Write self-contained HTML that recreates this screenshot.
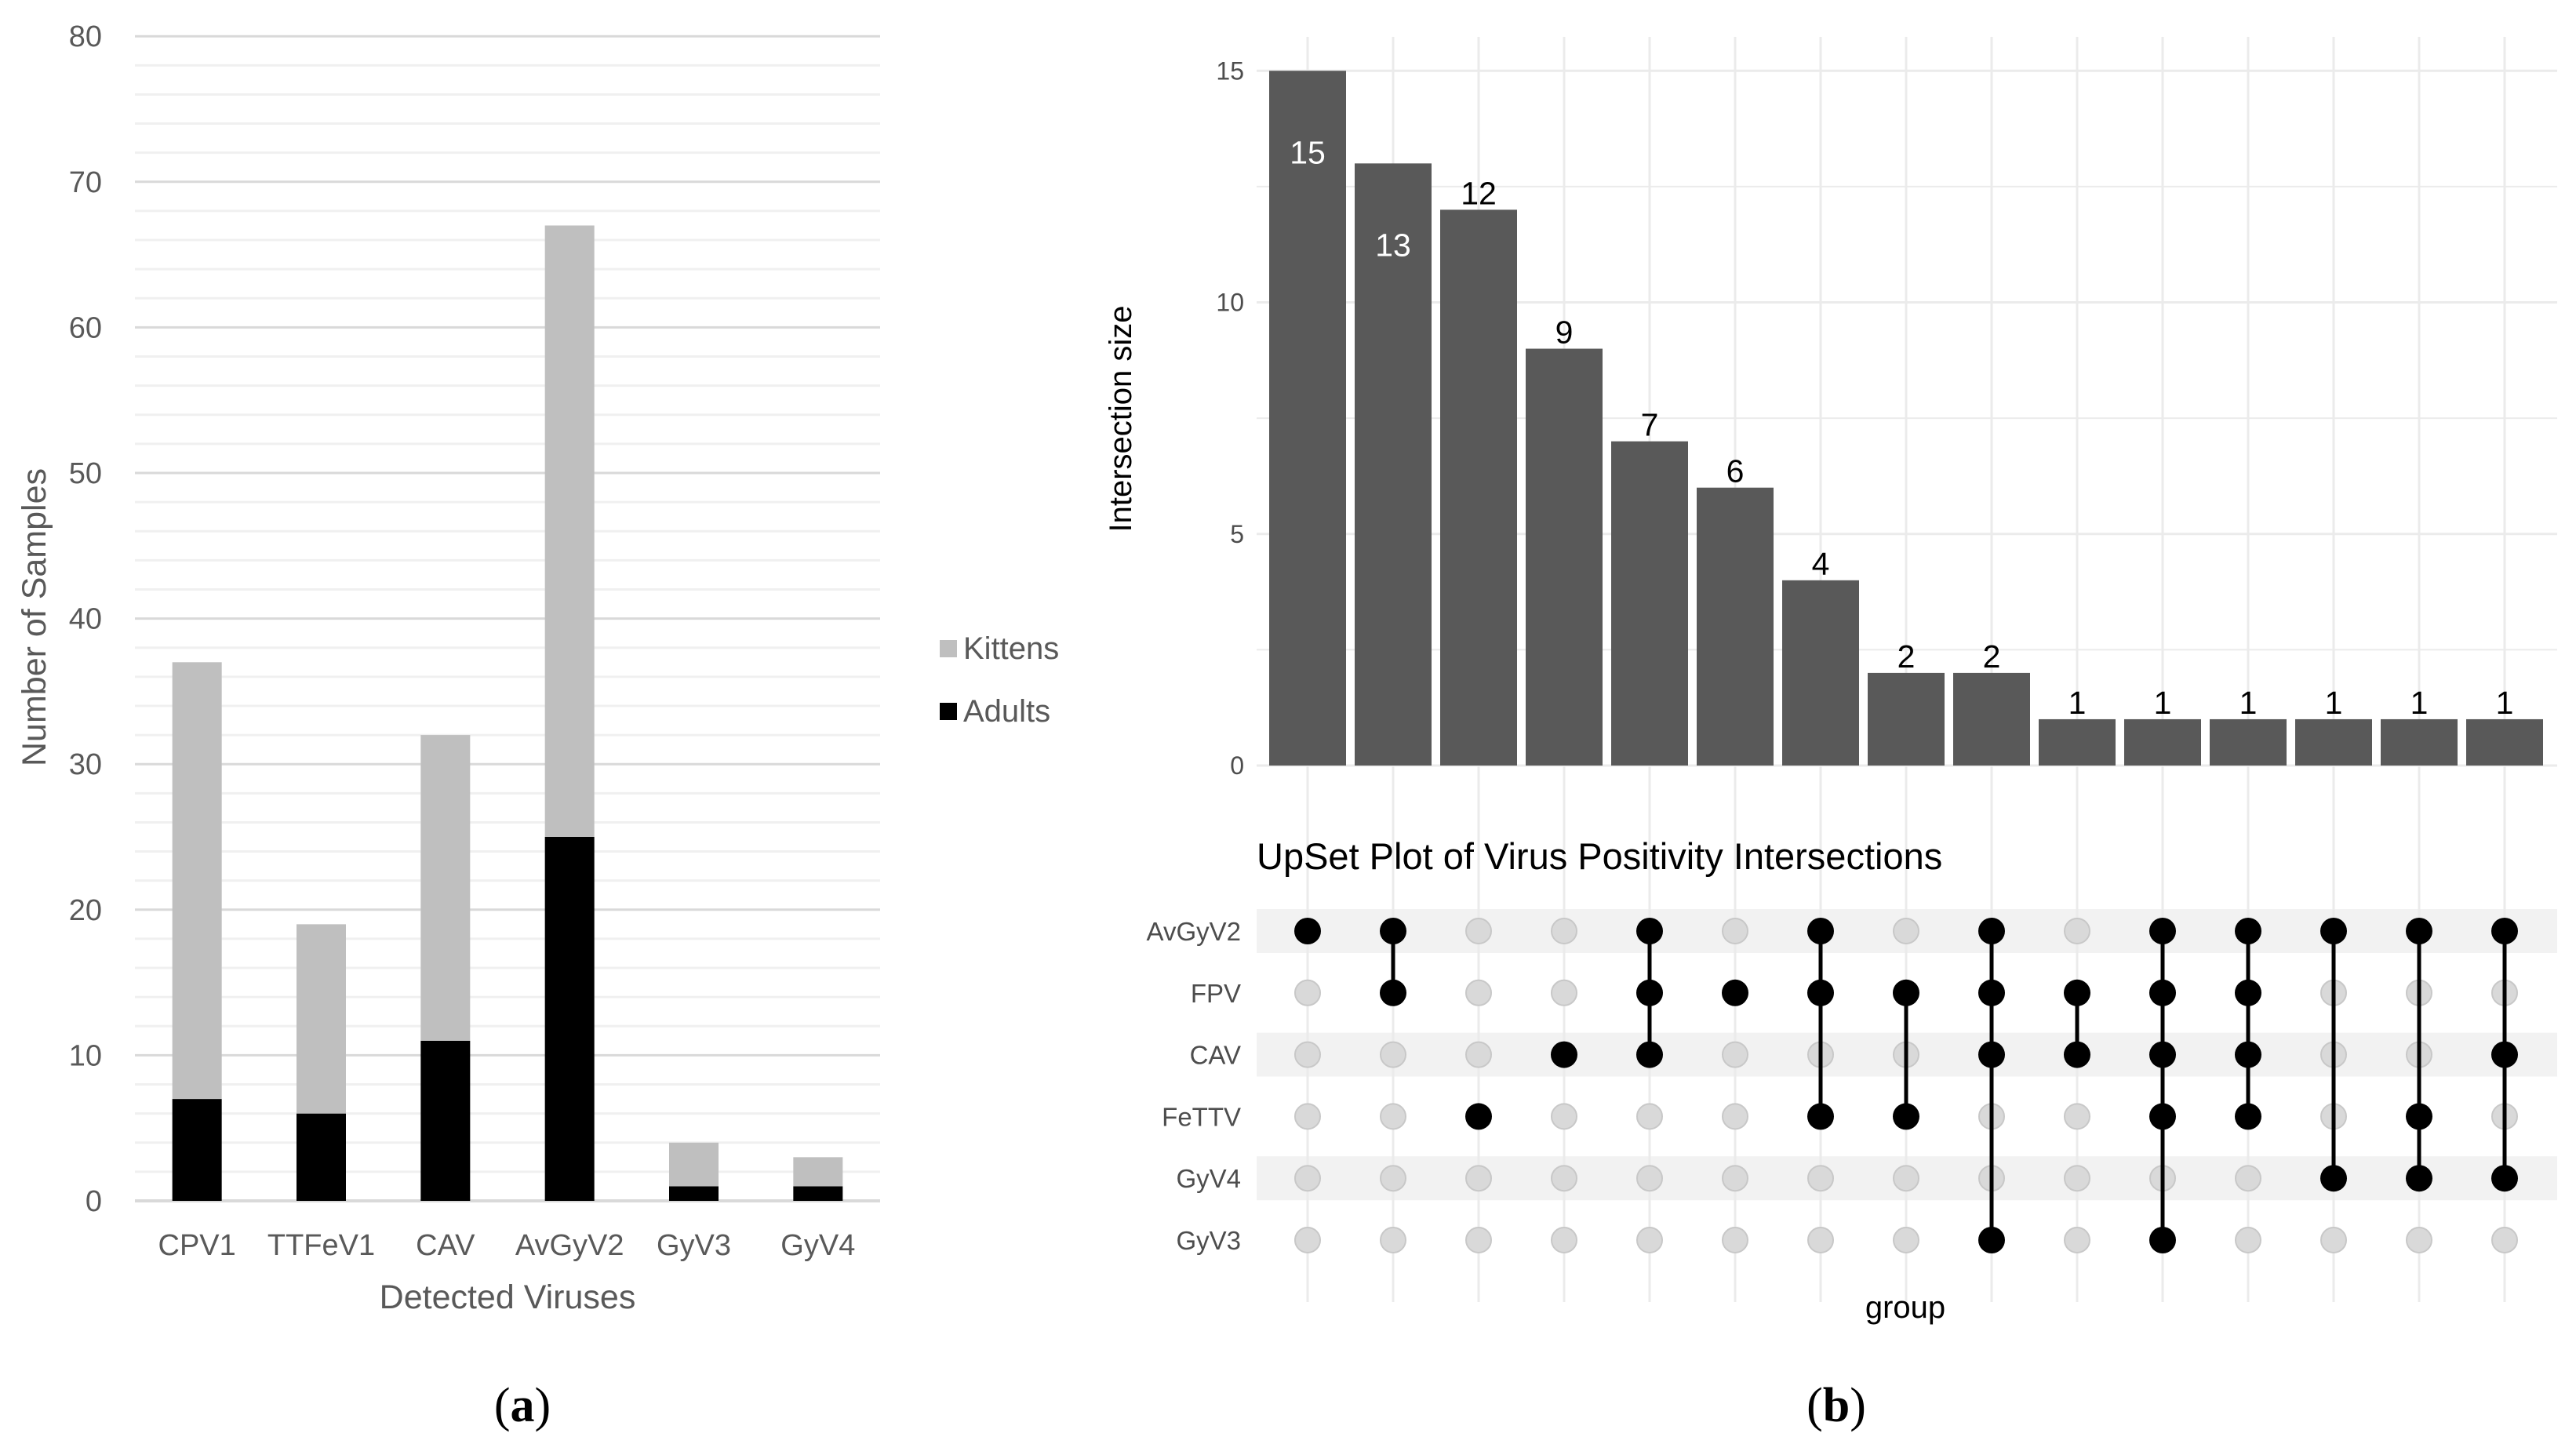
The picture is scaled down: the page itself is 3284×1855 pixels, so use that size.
<!DOCTYPE html>
<html><head><meta charset="utf-8"><style>
html,body{margin:0;padding:0;background:#fff;}
svg{display:block;font-family:"Liberation Sans",sans-serif;}
</style></head><body>
<svg id="fig" width="3284" height="1855" viewBox="0 0 3284 1855" xmlns="http://www.w3.org/2000/svg">
<g id="chartA"></g>
<g id="chartB"></g>
</svg>
<script>
const NS="http://www.w3.org/2000/svg";
// ---- Chart A data ----
const virusCats=["CPV1","TTFeV1","CAV","AvGyV2","GyV3","GyV4"];
const adultsVals=[7,6,11,25,1,1];
const kittensVals=[30,13,21,42,3,2];
const yTicksA=[0,10,20,30,40,50,60,70,80];
// ---- Chart B data ----
const interSizes=[15,13,12,9,7,6,4,2,2,1,1,1,1,1,1];
const setNames=["AvGyV2","FPV","CAV","FeTTV","GyV4","GyV3"];
const memberships=[[0],[0,1],[3],[2],[0,1,2],[1],[0,1,3],[1,3],[0,1,2,5],[1,2],[0,1,2,3,5],[0,1,2,3],[0,4],[0,3,4],[0,2,4]];
const yTicksB=[0,5,10,15];

function mk(parent,tag,attrs,text){const e=document.createElementNS(NS,tag);for(const k in attrs)e.setAttribute(k,attrs[k]);if(text!==undefined)e.textContent=text;parent.appendChild(e);return e;}

// ===== Chart A =====
const A=document.getElementById('chartA');
const aL=172,aR=1122,aY0=1531,aPer=18.56;
const ay=v=>aY0-v*aPer;
const aBand=(aR-aL)/virusCats.length, aBW=63;
const ax=i=>aL+aBand*(i+0.5);
for(let v=0;v<=80;v+=2){
  const g=mk(A,'line',{x1:aL,x2:aR,y1:ay(v),y2:ay(v),stroke:v%10===0?'#d9d9d9':'#f0f0f0','stroke-width':v===0?4:3});
  
  
}
yTicksA.forEach(t=>{
  const e=mk(A,'text',{x:130,y:ay(t)+13,'text-anchor':'end','font-size':38,fill:'#595959'},String(t));
  
  
});
virusCats.forEach((c,i)=>{
  const r1=mk(A,'rect',{x:ax(i)-aBW/2,y:ay(adultsVals[i]),width:aBW,height:adultsVals[i]*aPer,fill:'#000'});
  
  
  const tot=adultsVals[i]+kittensVals[i];
  const r2=mk(A,'rect',{x:ax(i)-aBW/2,y:ay(tot),width:aBW,height:kittensVals[i]*aPer,fill:'#bfbfbf'});
  
  
  const t=mk(A,'text',{x:ax(i),y:1600,'text-anchor':'middle','font-size':38,fill:'#595959'},c);
  
  
});
</script>
<script>
(function(){
const A=document.getElementById('chartA');
const xt=mk(A,'text',{x:647,y:1668,'text-anchor':'middle','font-size':43,fill:'#595959'},'Detected Viruses');


const yt=mk(A,'text',{x:0,y:0,'text-anchor':'middle','font-size':43,fill:'#595959',transform:'translate(58,787) rotate(-90)'},'Number of Samples');


const l1=mk(A,'rect',{x:1198,y:816,width:22,height:22,fill:'#bfbfbf'});


const l1t=mk(A,'text',{x:1228,y:840,'font-size':40,fill:'#595959'},'Kittens');


const l2=mk(A,'rect',{x:1198,y:896,width:22,height:22,fill:'#000'});


const l2t=mk(A,'text',{x:1228,y:920,'font-size':40,fill:'#595959'},'Adults');


const pa=mk(A,'text',{x:666,y:1812,'text-anchor':'middle','font-size':62,'font-family':'Liberation Serif, serif',fill:'#000'},'');
pa.innerHTML='(<tspan font-weight="bold">a</tspan>)';



// ===== Chart B =====
const B=document.getElementById('chartB');
const bL=1602,bR=3260,bY0=976,bPer=59.05;
const by=v=>bY0-v*bPer;
const bx0=1667,bStep=109,bBW=98;
const bx=i=>bx0+i*bStep;
const rowY=j=>1187+j*78.8;
for(let v=0;v<=15;v+=2.5){
  const g=mk(B,'line',{x1:bL,x2:bR,y1:by(v),y2:by(v),stroke:'#ebebeb','stroke-width':v%5===0?3:2});
  
  
}
setNames.forEach((s,j)=>{
  if(j%2===0){
    const b=mk(B,'rect',{x:bL,y:rowY(j)-28,width:bR-bL,height:56,fill:'#f2f2f2'});
    
    
  }
});
interSizes.forEach((v,i)=>{
  const g=mk(B,'line',{x1:bx(i),x2:bx(i),y1:47,y2:1660,stroke:'#ebebeb','stroke-width':3});
  
  
});
yTicksB.forEach(t=>{
  const e=mk(B,'text',{x:1586,y:by(t)+11,'text-anchor':'end','font-size':32,fill:'#4d4d4d'},String(t));
  
  
});
interSizes.forEach((v,i)=>{
  const r=mk(B,'rect',{x:bx(i)-bBW/2,y:by(v),width:bBW,height:v*bPer,fill:'#595959'});
  
  
  const inside=v>=13;
  const t=mk(B,'text',{x:bx(i),y:inside?by(v)+118:by(v)-7,'text-anchor':'middle','font-size':41,fill:inside?'#fff':'#000'},String(v));
  
  
});
const yb=mk(B,'text',{x:0,y:0,'text-anchor':'middle','font-size':40,fill:'#000',transform:'translate(1442,534) rotate(-90)'},'Intersection size');


const tt=mk(B,'text',{x:1602,y:1108,'font-size':47,fill:'#000'},'UpSet Plot of Virus Positivity Intersections');


setNames.forEach((s,j)=>{
  const t=mk(B,'text',{x:1582,y:rowY(j)+12,'text-anchor':'end','font-size':33,fill:'#4d4d4d'},s);
  
  
});
memberships.forEach((m,i)=>{
  const lo=Math.min(...m),hi=Math.max(...m);
  setNames.forEach((s,j)=>{
    if(!m.includes(j)){
      const c=mk(B,'circle',{cx:bx(i),cy:rowY(j),r:16,fill:'#d9d9d9',stroke:'#c8c8c8','stroke-width':2});
      
      
    }
  });
  if(hi>lo){
    const l=mk(B,'line',{x1:bx(i),x2:bx(i),y1:rowY(lo),y2:rowY(hi),stroke:'#000','stroke-width':5});
    
    
  }
  m.forEach(j=>{
    const c=mk(B,'circle',{cx:bx(i),cy:rowY(j),r:17,fill:'#000'});
    
    
  });
});
const gx=mk(B,'text',{x:2429,y:1680,'text-anchor':'middle','font-size':40,fill:'#000'},'group');


const pb=mk(B,'text',{x:2341,y:1812,'text-anchor':'middle','font-size':62,'font-family':'Liberation Serif, serif',fill:'#000'},'');
pb.innerHTML='(<tspan font-weight="bold">b</tspan>)';


})();
</script>
</body></html>
